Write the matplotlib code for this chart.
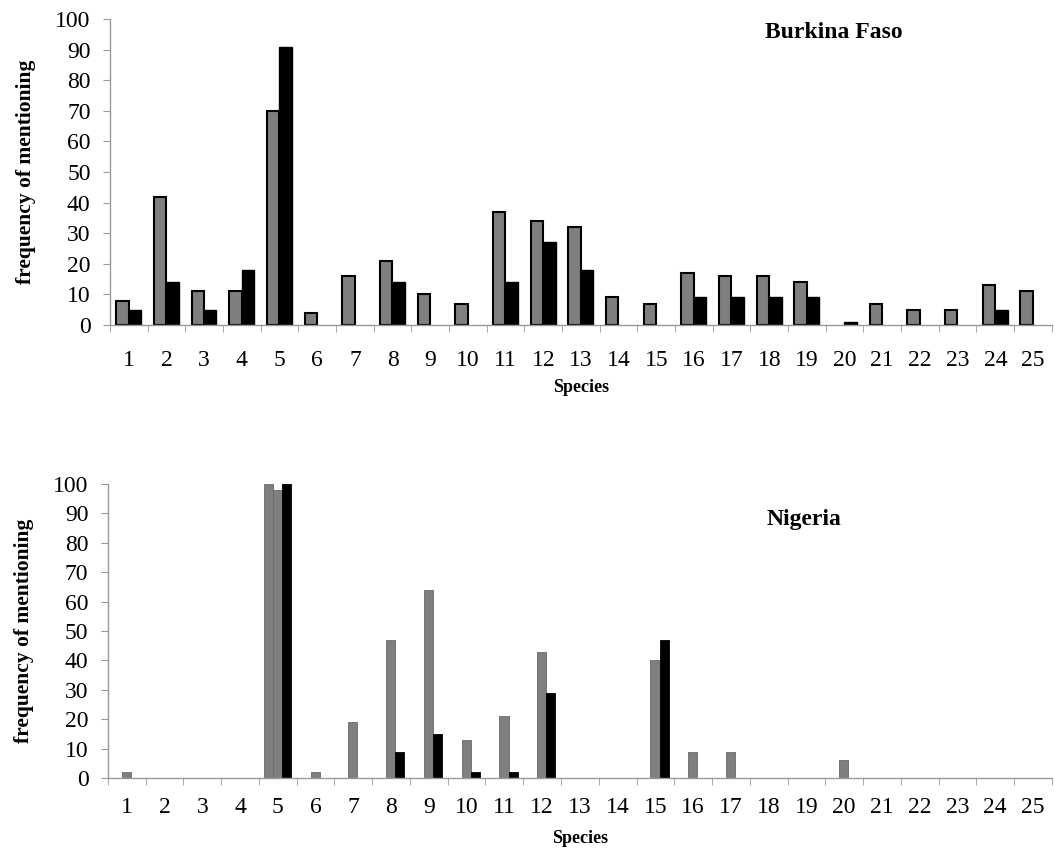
import numpy as np
import matplotlib
matplotlib.use("Agg")
import matplotlib.pyplot as plt

plt.rcParams['font.family'] = ['Liberation Serif', 'DejaVu Serif']

species = list(range(1, 26))

# Burkina Faso, two series (grey / black)
bf_grey = [8, 42, 11, 11, 70, 4, 16, 21, 10, 7, 37, 34, 32, 9, 7,
           17, 16, 16, 14, 0, 7, 5, 5, 13, 11]
bf_black = [5, 14, 5, 18, 91, 0, 0, 14, 0, 0, 14, 27, 18, 0, 0,
            9, 9, 9, 9, 1, 0, 0, 0, 5, 0]

# Nigeria, three series (only the first one has a bar at species 5)
ng_first = [0, 0, 0, 0, 100, 0, 0, 0, 0, 0, 0, 0, 0, 0, 0,
            0, 0, 0, 0, 0, 0, 0, 0, 0, 0]
ng_grey = [2, 0, 0, 0, 98, 2, 19, 47, 64, 13, 21, 43, 0, 0, 40,
           9, 9, 0, 0, 6, 0, 0, 0, 0, 0]
ng_black = [0, 0, 0, 0, 100, 0, 0, 9, 15, 2, 2, 29, 0, 0, 47,
            0, 0, 0, 0, 0, 0, 0, 0, 0, 0]

x = np.arange(1, 26)
GREY = '#7f7f7f'
AXC = '#9a9a9a'

fig = plt.figure(figsize=(10.55, 8.61), dpi=100)
ax1 = fig.add_axes([0.1043, 0.6225, 0.8927, 0.3554])
ax2 = fig.add_axes([0.1023, 0.0964, 0.8947, 0.3415])


def bars(ax, vals, offset, width, **kw):
    vals = np.asarray(vals, dtype=float)
    keep = vals > 0  # empty categories draw nothing
    ax.bar(x[keep] + offset, vals[keep], width=width, **kw)


def style(ax, xpad, lpad):
    ax.set_xlim(0.5, 25.5)
    ax.set_ylim(0, 100)
    ax.set_yticks(range(0, 101, 10))
    ax.set_xticks(x)
    ax.set_xticklabels([str(s) for s in species])
    ax.set_xticks(np.arange(0.5, 26, 1), minor=True)
    ax.tick_params(axis='x', which='major', length=0, pad=xpad, labelsize=17)
    ax.tick_params(axis='x', which='minor', length=5, color=AXC, direction='out')
    ax.tick_params(axis='y', length=5, color=AXC, labelsize=17, pad=9)
    for s in ['top', 'right']:
        ax.spines[s].set_visible(False)
    for s in ['left', 'bottom']:
        ax.spines[s].set_color(AXC)
        ax.spines[s].set_linewidth(1.0)
    ax.set_ylabel('frequency of mentioning', fontsize=15.5, fontweight='bold', labelpad=14)
    ax.set_xlabel('Species', fontsize=13, fontweight='bold', labelpad=lpad)


bars(ax1, bf_grey, -0.17, 0.33, color=GREY, edgecolor='black', linewidth=1.5)
bars(ax1, bf_black, 0.16, 0.33, color='black', edgecolor='black', linewidth=1.0)
style(ax1, 18, 6)
ax1.text(0.768, 0.955, 'Burkina Faso', transform=ax1.transAxes, fontsize=17,
         fontweight='bold', ha='center', va='center')

bars(ax2, ng_first, -0.25, 0.25, color=GREY, edgecolor='#6a6a6a', linewidth=0.6)
bars(ax2, ng_grey, -0.01, 0.24, color=GREY, edgecolor='#6a6a6a', linewidth=0.6)
bars(ax2, ng_black, 0.23, 0.24, color='black', edgecolor='black', linewidth=0.6)
style(ax2, 14, 8)
ax2.text(0.737, 0.88, 'Nigeria', transform=ax2.transAxes, fontsize=17,
         fontweight='bold', ha='center', va='center')

fig.savefig('out.png', dpi=100, facecolor='white')
